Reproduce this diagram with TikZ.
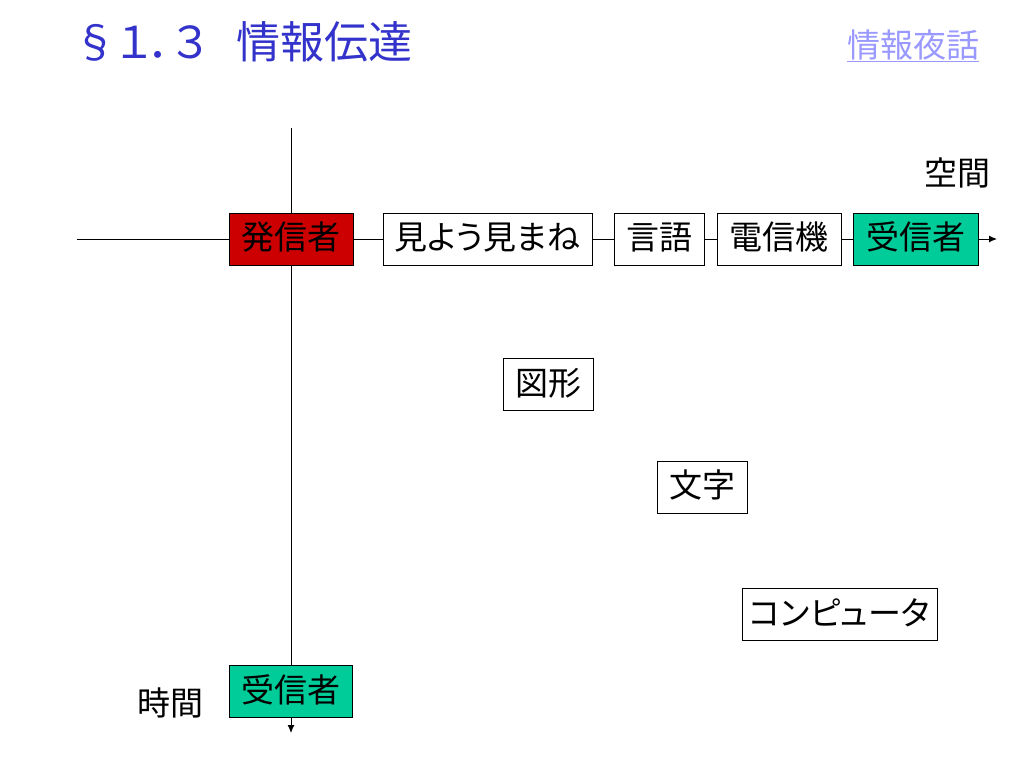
\documentclass[tikz,border=0pt]{standalone}
\usepackage{fontspec}
\setmainfont{Noto Sans CJK JP}[RawFeature=+palt]
\usepackage{tikz}
\usetikzlibrary{positioning,arrows.meta}

\definecolor{sendred}{RGB}{204,0,0}
\definecolor{recvgreen}{RGB}{0,204,153}
\definecolor{titleblue}{RGB}{51,51,204}
\definecolor{linkblue}{RGB}{153,153,255}

\begin{document}
\begin{tikzpicture}[x=1pt,y=-1pt,line width=1pt,>={Latex[length=8pt,width=7pt]},
  box/.style={draw, line width=0.8pt, fill=white, minimum height=52pt, inner xsep=4pt, inner ysep=0pt,
    text height=27pt, text depth=6pt, font=\fontsize{33}{38}\selectfont},
  label/.style={font=\fontsize{33}{38}\selectfont}]

\useasboundingbox (0,0) rectangle (1024,768);

% title
\node[anchor=west, text=titleblue, font=\fontsize{44}{50}\selectfont] (title) at (70,42) {§１．３\hspace{30pt}情報伝達};
\node[text=linkblue, font=\fontsize{33}{38}\selectfont] (link) at (913,46) {\underline{情報夜話}};

% axes ends
\coordinate (hleft) at (77,239);
\coordinate (hend) at (997,239);
\coordinate (vtop) at (291,128);
\coordinate (vend) at (291,733);

% boxes
\node[box, fill=sendred, minimum width=124pt] (send) at (291,239) {発信者};
\node[box, minimum width=209pt] (look) at (487.5,239) {見よう見まね};
\node[box, minimum width=90pt] (lang) at (659,239) {言語};
\node[box, minimum width=124pt] (tele) at (779,239) {電信機};
\node[box, fill=recvgreen, minimum width=125pt] (recvS) at (915.5,239) {受信者};
\node[box, minimum width=90pt] (fig) at (548,384.5) {図形};
\node[box, minimum width=90pt] (char) at (702,487) {文字};
\node[box, minimum width=195pt] (comp) at (839.5,614.5) {コンピュータ};
\node[box, fill=recvgreen, minimum width=123pt] (recvT) at (291,691.5) {受信者};

\node[label] (space) at (957,173) {空間};
\node[label] (time) at (170,703) {時間};

% connectors
\draw (hleft) -- (send);
\draw (send) -- (look);
\draw (look) -- (lang);
\draw (lang) -- (tele);
\draw (tele) -- (recvS);
\draw[->] (recvS) -- (hend);
\draw (vtop) -- (send);
\draw (send) -- (recvT);
\draw[->] (recvT) -- (vend);

\end{tikzpicture}
\end{document}
